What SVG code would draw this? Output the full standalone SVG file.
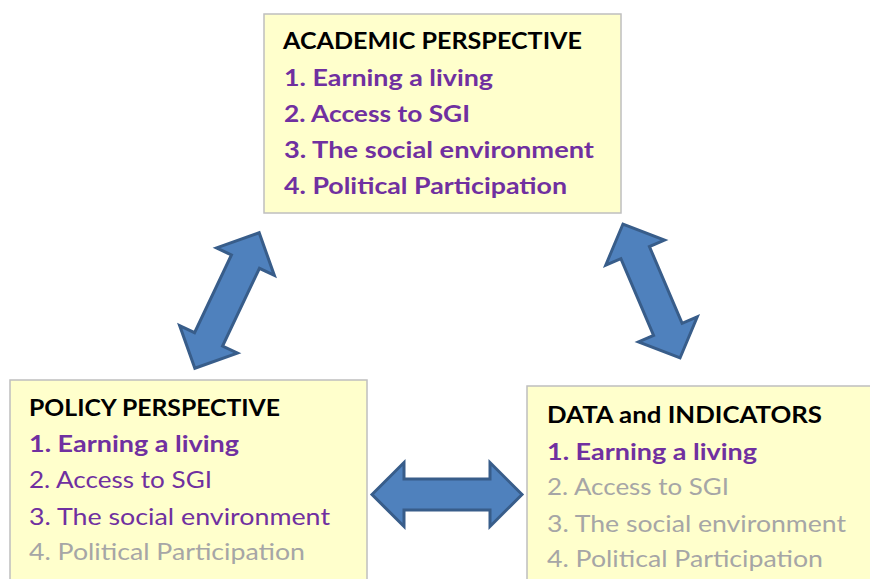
<svg xmlns="http://www.w3.org/2000/svg" width="870" height="579" viewBox="0 0 870 579">
<defs>
<style>
.box{fill:#FFFFCC;stroke:#BFBFBF;stroke-width:1.5}
text{font-family:Lato,"Open Sans","Liberation Sans",sans-serif;font-size:23px}
.t{font-weight:bold;fill:#000}
.pb{font-weight:bold;fill:#7030A0}
.pr{fill:#7030A0}
.g{fill:#A6A6A6}
.arr{fill:#4F81BD;stroke:#385D8A;stroke-width:3;stroke-linejoin:miter}
</style>
<polygon id="dbl" points="-75,0 -43,-32 -43,-15.5 43,-15.5 43,-32 75,0 43,32 43,15.5 -43,15.5 -43,32"/>
</defs>
<rect width="870" height="579" fill="#fff"/>
<g id="academic">
<rect class="box" x="264" y="14" width="357" height="199"/>
<text class="t" x="283" y="49" textLength="299" lengthAdjust="spacingAndGlyphs">ACADEMIC PERSPECTIVE</text>
<text class="pb" x="284" y="86" textLength="209" lengthAdjust="spacingAndGlyphs">1. Earning a living</text>
<text class="pb" x="284" y="122" textLength="186" lengthAdjust="spacingAndGlyphs">2. Access to SGI</text>
<text class="pb" x="284" y="158" textLength="310" lengthAdjust="spacingAndGlyphs">3. The social environment</text>
<text class="pb" x="284" y="194" textLength="283" lengthAdjust="spacingAndGlyphs">4. Political Participation</text>
</g>
<g id="policy">
<rect class="box" x="10" y="380" width="357" height="220"/>
<text class="t" x="29" y="416" textLength="251" lengthAdjust="spacingAndGlyphs">POLICY PERSPECTIVE</text>
<text class="pb" x="29" y="452" textLength="210" lengthAdjust="spacingAndGlyphs">1. Earning a living</text>
<text class="pr" x="29" y="488" textLength="183" lengthAdjust="spacingAndGlyphs">2. Access to SGI</text>
<text class="pr" x="29" y="525" textLength="301" lengthAdjust="spacingAndGlyphs">3. The social environment</text>
<text class="g" x="29" y="560" textLength="276" lengthAdjust="spacingAndGlyphs">4. Political Participation</text>
</g>
<g id="data">
<rect class="box" x="527" y="386" width="360" height="220"/>
<text class="t" x="547" y="423" textLength="275" lengthAdjust="spacingAndGlyphs">DATA and INDICATORS</text>
<text class="pb" x="547" y="460" textLength="210" lengthAdjust="spacingAndGlyphs">1. Earning a living</text>
<text class="g" x="547" y="495" textLength="182" lengthAdjust="spacingAndGlyphs">2. Access to SGI</text>
<text class="g" x="547" y="532" textLength="299" lengthAdjust="spacingAndGlyphs">3. The social environment</text>
<text class="g" x="547" y="567" textLength="276" lengthAdjust="spacingAndGlyphs">4. Political Participation</text>
</g>
<g id="connectors">
<use href="#dbl" class="arr" transform="translate(227,300.5) rotate(-64.6)"/>
<use href="#dbl" class="arr" transform="translate(651.5,291) rotate(66.9) scale(0.97,1)"/>
<use href="#dbl" class="arr" transform="translate(447,494.5)"/>
</g>
</svg>
